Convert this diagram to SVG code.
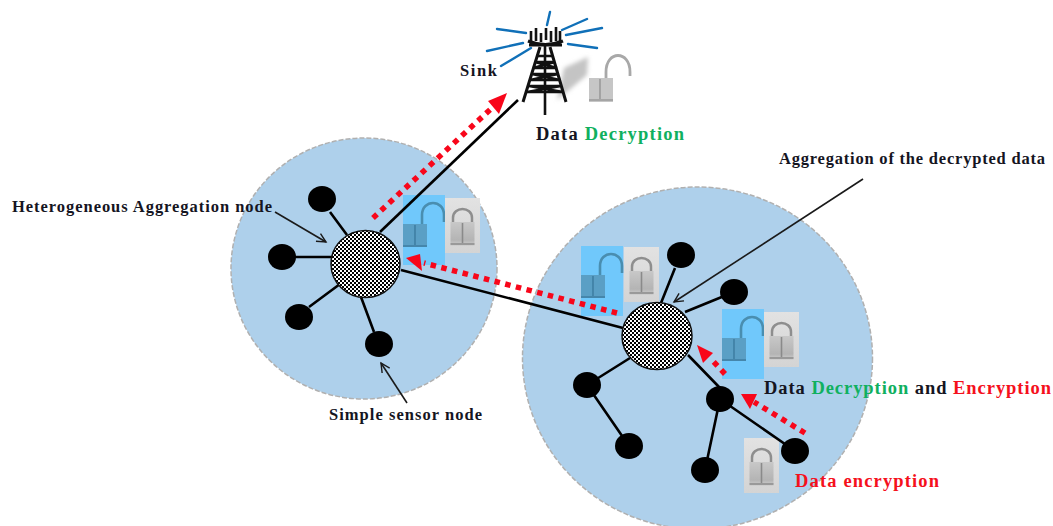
<svg xmlns="http://www.w3.org/2000/svg" width="1053" height="526" viewBox="0 0 1053 526">
<style>
text{font-family:"Liberation Serif","DejaVu Serif",serif;font-weight:bold;font-size:18.5px}
.blk{fill:#15151f}.grn{fill:#10b060}.red{fill:#f5101c}
.small{font-size:16.5px}
.zone{fill:#aed0eb;stroke:#b0b0b0;stroke-width:1.5;stroke-dasharray:5 2}
.hub{fill:url(#chk);stroke:#111;stroke-width:1.5}
.leaf{fill:#000}
.ln{stroke:#000;stroke-width:2.6;fill:none}
.thin{stroke:#1a1a1a;stroke-width:1.6;fill:none}
.rd{stroke:#f8061a;stroke-width:5.5;stroke-dasharray:5.5 5.5;fill:none}
.ray{stroke:#1070b8;fill:none;stroke-width:2.4;stroke-linecap:round}
.t{stroke:#111;fill:none}
</style>
<defs>
<filter id="soft" x="-10%" y="-10%" width="120%" height="120%"><feGaussianBlur stdDeviation=".6"/></filter>
<filter id="soft2" x="-30%" y="-30%" width="160%" height="160%"><feGaussianBlur stdDeviation="2.2"/></filter>
<pattern id="chk" width="4" height="4" patternUnits="userSpaceOnUse">
<rect width="4" height="4" fill="#fff"/>
<rect width="2" height="2" fill="#000"/>
<rect x="2" y="2" width="2" height="2" fill="#000"/>
</pattern>
<linearGradient id="gb" x1="0" y1="0" x2="0" y2="1"><stop offset="0" stop-color="#e2e2e2"/><stop offset="1" stop-color="#d4d4d4"/></linearGradient>
<linearGradient id="body" x1="0" y1="0" x2="0" y2="1"><stop offset="0" stop-color="#c8c8c8"/><stop offset=".75" stop-color="#b4b4b4"/><stop offset="1" stop-color="#d0d0d0"/></linearGradient>
<marker id="ah" markerWidth="12" markerHeight="12" refX="10" refY="6" orient="auto" markerUnits="userSpaceOnUse"><path d="M1 1.5L10 6L1 10.5" fill="none" stroke="#1a1a1a" stroke-width="1.4"/></marker>
<g id="closed">
<rect width="35" height="55" fill="url(#gb)"/>
<g filter="url(#soft)">
<path d="M8 26V20C8 8 27 8 27 20V26" fill="none" stroke="#8e8e8e" stroke-width="2.5"/>
<rect x="5.500" y="24" width="24" height="24" fill="url(#body)"/>
<path d="M17.500 25V45M5.500 46H29.500" stroke="#8a8a8a" stroke-width="1.6"/>
</g>
</g>
<g id="openblue">
<rect width="42" height="70" fill="#70c8fb"/>
<g filter="url(#soft)">
<path d="M19 29V20C19 4 41 4 41 20V27" fill="none" stroke="#4a8eb0" stroke-width="2.6"/>
<rect x="0" y="29" width="24" height="23" fill="#5a9fc5"/>
<path d="M12 30V50M0 51H24" stroke="#3f7fa3" stroke-width="1.6"/>
</g>
</g>
</defs>

<g id="zones">
<ellipse id="zone-left" class="zone" cx="364" cy="268.500" rx="133" ry="130.500"/>
<ellipse id="zone-right" class="zone" cx="697.500" cy="358" rx="175" ry="171"/>
</g>

<g id="lock-sink">
<polygon points="564,68 588,57 587,75 557,100" fill="#c4c4c4" filter="url(#soft2)"/>
<g filter="url(#soft)">
<path d="M606 80V72C606 50 630 50 630 72V76" fill="none" stroke="#a8a8a8" stroke-width="2.8"/>
<rect x="589" y="78" width="24" height="24" fill="#c6c6c6"/>
<path d="M600 79V99M589 100H613" stroke="#9a9a9a" stroke-width="1.6"/>
</g>
</g>
<g id="lock-left"><use href="#openblue" x="403" y="195"/><use href="#closed" x="445" y="198"/></g>
<g id="lock-middle"><use href="#openblue" x="581" y="246"/><use href="#closed" x="624" y="247"/></g>
<g id="lock-right"><use href="#openblue" x="722" y="309"/><use href="#closed" x="764" y="312"/></g>
<g id="lock-bottom"><use href="#closed" x="744" y="438"/></g>

<g id="connectors">
<path class="ln" d="M330 212L347 235M295 257H332M340 284L309 307M361 297L374 332"/>
<path class="ln" d="M661 303L675 268M685 312L734 292M630 358L587 385M688 355L720 388M587 385L629 446M720 399L705 470M720 399L795 451M401 270L623 328"/>
<path class="ln" d="M380 232L518 100"/>
<path class="thin" marker-end="url(#ah)" d="M275 212L326 242"/>
<path class="thin" marker-end="url(#ah)" d="M407 403L381 363"/>
<path class="thin" marker-end="url(#ah)" d="M863 179L674 302"/>
<path class="rd" d="M373 218L494 106"/>
<path class="rd" d="M617 313L424 263"/>
<path class="rd" d="M725 374L710 358"/>
<path class="rd" d="M805 433L754 402"/>
<g fill="#f8061a">
<polygon points="507,93 488,101 499,114"/>
<polygon points="406,258 420,254 422,271"/>
<polygon points="697,345 713,353 703,363"/>
<polygon points="741,394 757,394 750,409"/>
</g>
</g>

<g id="node-left-hub"><ellipse class="hub" cx="365.500" cy="264" rx="34.500" ry="33.500"/></g>
<g id="node-right-hub"><ellipse class="hub" cx="657" cy="336" rx="35" ry="33.500"/></g>
<g id="leaves">
<ellipse class="leaf" cx="322" cy="199" rx="14" ry="13"/>
<ellipse class="leaf" cx="282" cy="257" rx="14" ry="13"/>
<ellipse class="leaf" cx="299" cy="317" rx="14" ry="13"/>
<ellipse class="leaf" cx="379" cy="344" rx="14" ry="13"/>
<ellipse class="leaf" cx="681" cy="255" rx="14" ry="13"/>
<ellipse class="leaf" cx="734" cy="292" rx="14" ry="13"/>
<ellipse class="leaf" cx="587" cy="385" rx="14" ry="13"/>
<ellipse class="leaf" cx="629" cy="446" rx="14" ry="13"/>
<ellipse class="leaf" cx="720" cy="399" rx="14" ry="13"/>
<ellipse class="leaf" cx="705" cy="470" rx="14" ry="13"/>
<ellipse class="leaf" cx="795" cy="451" rx="14" ry="13"/>
</g>

<g id="node-sink">
<path class="ray" d="M497 29L526 33M487 51L523 43M501 66L531 48M550 12L547 25M562 30L587 19M566 35L602 28M568 44L597 48"/>
<path class="t" stroke-width="2.6" d="M531 43V31M536 41V28M541 42V33M546 40V28M551 42V31M556 41V27M560 43V31"/>
<path class="t" stroke-width="3.2" d="M528 41Q545 48 563 41M529 45H562"/>
<path class="t" stroke-width="3" d="M540 47L523 102M550 47L566 102"/>
<path class="t" stroke-width="2.6" d="M545 46V115"/>
<path class="t" stroke-width="2.4" d="M537 56H553M535 62H555M533 68H557M532 74H558M530 80H560M529 86H561M527 92H563M535 62L557 68M555 62L533 68M532 74L560 80M558 74L530 80M529 86L563 92M561 86L527 92"/>
</g>

<g id="labels">
<text class="blk small" x="460" y="76" textLength="37">Sink</text>
<text x="536" y="140" textLength="148"><tspan class="blk">Data </tspan><tspan class="grn">Decryption</tspan></text>
<text class="blk small" x="779" y="164" textLength="266">Aggregation of the decrypted data</text>
<text class="blk small" x="12" y="212" textLength="260">Heterogeneous Aggregation node</text>
<text class="blk small" x="329" y="420" textLength="153">Simple sensor node</text>
<text x="764" y="394" textLength="287"><tspan class="blk">Data </tspan><tspan class="grn">Decryption</tspan><tspan class="blk"> and </tspan><tspan class="red">Encryption</tspan></text>
<text class="red" x="795" y="487" textLength="144">Data encryption</text>
</g>
</svg>
